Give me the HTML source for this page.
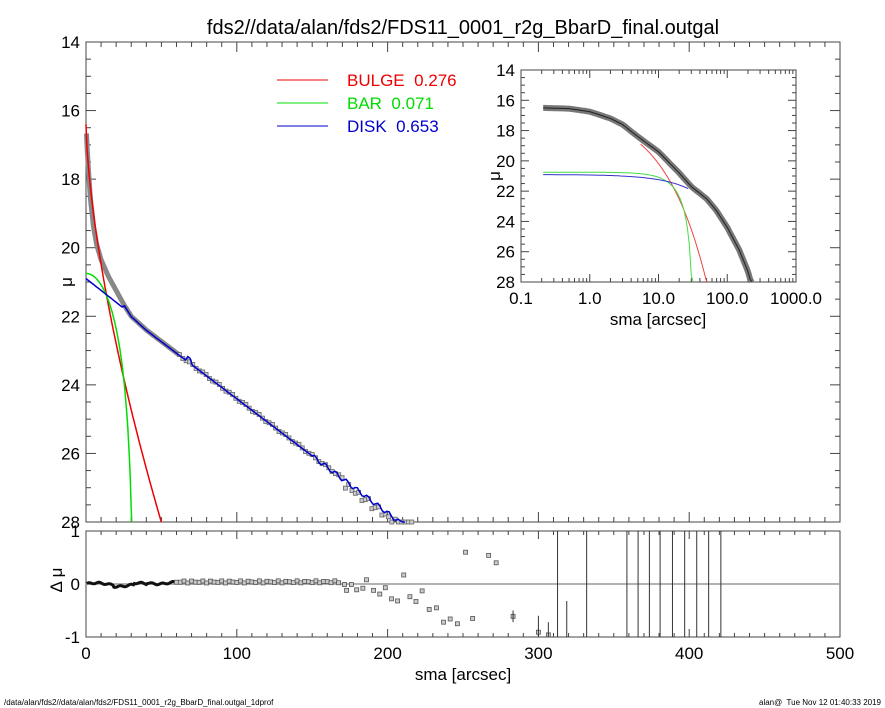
<!DOCTYPE html>
<html><head><meta charset="utf-8"><style>
body{margin:0;background:#fff;}
svg{display:block;font-family:"Liberation Sans",sans-serif;}
</style></head><body>
<svg id="s" width="885" height="708" xmlns="http://www.w3.org/2000/svg"></svg>
<script>
const S=document.getElementById('s');let h='';
const X=r=>86+r*754/500, Y=m=>42+(m-14)*480/14;
const RY=d=>584-d*53;
const IX=r=>521+(Math.log10(r)+1)*68.75, IY=m=>70+(m-14)*212/14;
const bul=r=>16.4+0.913*Math.pow(r,0.65);
const bar=r=>r>=31.9?99:20.75-2.5*Math.log10(Math.pow(1-(r/32)*(r/32),3));
const dsk=r=>20.9+0.0346*r;
function interp(pts,r){if(r<=pts[0][0])return pts[0][1];for(let i=1;i<pts.length;i++){if(r<=pts[i][0]){let a=pts[i-1],b=pts[i];let t=(r-a[0])/(b[0]-a[0]);return a[1]+t*(b[1]-a[1]);}}let a=pts[pts.length-2],b=pts[pts.length-1];return b[1]+(r-b[0])*(b[1]-a[1])/(b[0]-a[0]);}
const DP=[[0,16.4],[1,17.3],[2,18],[3,18.6],[5,19.4],[7,19.9],[10,20.35],[15,20.85],[20,21.25],[25,21.65],[30,22.0],[40,22.4]];
const dat=r=>r<=40?interp(DP,r):22.4+0.0333*(r-40);
const IP=[[0.2,16.5],[0.5,16.55],[1,16.75],[2,17.2],[3,17.6],[5,18.4],[10,19.4],[20,20.8],[30,21.7],[50,22.5],[70,23.3],[100,24.4],[150,25.9],[200,27.3],[230,28.3]];
const idat=r=>interp(IP.map(p=>[Math.log10(p[0]),p[1]]),Math.log10(r));
const ibul=r=>16.4+0.762*Math.pow(r,0.696);
function poly(f,x,y,r0,r1,n,col,w,clipY,log){let p=[];for(let i=0;i<=n;i++){let r=log?Math.pow(10,Math.log10(r0)+(Math.log10(r1)-Math.log10(r0))*i/n):r0+(r1-r0)*i/n;let m=f(r);if(m>clipY){m=clipY;p.push(x(r).toFixed(1)+','+y(m).toFixed(1));break;}p.push(x(r).toFixed(1)+','+y(m).toFixed(1));}
return `<polyline points="${p.join(' ')}" fill="none" stroke="${col}" stroke-width="${w}"/>`;}
h+=`<rect x="86" y="42" width="754" height="480" fill="none" stroke="#444"/>`;
for(let v=0;v<=500;v+=10){let x=X(v),L=v%100==0?10:5;h+=`<line x1="${x}" y1="522" x2="${x}" y2="${522-L}" stroke="#444"/><line x1="${x}" y1="42" x2="${x}" y2="${42+L}" stroke="#444"/>`;}
for(let m=14;m<=28;m+=0.5){let y=Y(m),L=m%2==0?10:5;h+=`<line x1="86" y1="${y}" x2="${86+L}" y2="${y}" stroke="#444"/><line x1="840" y1="${y}" x2="${840-L}" y2="${y}" stroke="#444"/>`;if(m%2==0)h+=`<text x="80" y="${y+6}" font-size="17" text-anchor="end">${m}</text>`;}
h+=poly(dat,X,Y,0.3,62,120,'#888',5,28);
for(let r=62;r<=218;r+=2.2){let d=dat(r)+0.03*Math.sin(r*0.7)+(r>170?0.12+0.1*Math.sin(r):0);if(d>28)d=28;h+=`<rect x="${X(r)-2}" y="${Y(d)-2}" width="4" height="4" fill="#ccc" stroke="#666" stroke-width="0.8"/>`;}
h+=poly(bul,X,Y,0,60,120,'#e00',1.5,28);
h+=poly(bar,X,Y,0,31.9,100,'#0d0',1.5,28);
let bp=[];for(let r=0;r<=212;r+=1.5){let m=r<25?dsk(r):dat(r)+0.01+(r>150?0.07*Math.sin(r*0.9):0);if(r>66&&r<70)m-=0.15;if(m>28)m=28;bp.push(X(r).toFixed(1)+','+Y(m).toFixed(1));}
h+=`<polyline points="${bp.join(' ')}" fill="none" stroke="#00c" stroke-width="1.5"/>`;
[['#e00','BULGE&#160; 0.276',80],['#0d0','BAR&#160; 0.071',103],['#00c','DISK&#160; 0.653',126]].forEach(l=>{h+=`<line x1="277" y1="${l[2]}" x2="328" y2="${l[2]}" stroke="${l[0]}"/><text x="347" y="${l[2]+6}" font-size="17" fill="${l[0]}">${l[1]}</text>`;});
h+=`<text x="463" y="34" font-size="20" text-anchor="middle">fds2//data/alan/fds2/FDS11_0001_r2g_BbarD_final.outgal</text>`;
h+=`<text x="66" y="288" font-size="17" transform="rotate(-90 66 282)" text-anchor="middle">μ</text>`;
h+=`<rect x="521" y="70" width="275" height="212" fill="#fff" stroke="#444"/>`;
for(let d=-1;d<3;d++)for(let k=1;k<10;k++){let x=IX(k*Math.pow(10,d)),L=k==1?8:4;h+=`<line x1="${x}" y1="282" x2="${x}" y2="${282-L}" stroke="#444"/><line x1="${x}" y1="70" x2="${x}" y2="${70+L}" stroke="#444"/>`;}
['0.1','1.0','10.0','100.0','1000.0'].forEach((t,i)=>h+=`<text x="${521+i*68.75}" y="304" font-size="17" text-anchor="middle">${t}</text>`);
for(let m=14;m<=28;m+=0.5){let y=IY(m),L=m%2==0?8:4;h+=`<line x1="521" y1="${y}" x2="${521+L}" y2="${y}" stroke="#444"/><line x1="796" y1="${y}" x2="${796-L}" y2="${y}" stroke="#444"/>`;if(m%2==0)h+=`<text x="515" y="${y+6}" font-size="17" text-anchor="end">${m}</text>`;}
h+=`<text x="658" y="325" font-size="17" text-anchor="middle">sma [arcsec]</text>`;
h+=`<text x="496" y="180" font-size="17" transform="rotate(-90 496 176)" text-anchor="middle">μ</text>`;
h+=poly(idat,IX,IY,0.21,225,140,'#777',6,28,1);
h+=poly(idat,IX,IY,0.21,225,140,'#222',1,28,1);
h+=poly(ibul,IX,IY,5.5,60,60,'#e44',1,28,1);
h+=poly(bar,IX,IY,0.21,31.9,80,'#4d4',1,28,1);
h+=poly(dsk,IX,IY,0.21,27,60,'#33c',1,28,1);
h+=`<rect x="86" y="531" width="754" height="106" fill="none" stroke="#444"/><line x1="86" y1="584" x2="840" y2="584" stroke="#999" stroke-width="1.5"/>`;
for(let v=0;v<=500;v+=10){let x=X(v),L=v%100==0?8:4;h+=`<line x1="${x}" y1="637" x2="${x}" y2="${637-L}" stroke="#444"/><line x1="${x}" y1="531" x2="${x}" y2="${531+L}" stroke="#444"/>`;if(v%100==0)h+=`<text x="${x}" y="659" font-size="17" text-anchor="middle">${v}</text>`;}
[[1,'1'],[0,'0'],[-1,'-1']].forEach(a=>h+=`<text x="80" y="${RY(a[0])+6}" font-size="17" text-anchor="end">${a[1]}</text>`);
h+=`<text x="463" y="680" font-size="17" text-anchor="middle">sma [arcsec]</text>`;
h+=`<text x="66" y="584" font-size="17" transform="rotate(-90 62 584)" text-anchor="middle">Δ μ</text>`;
let rp=[];for(let r=0.5;r<60;r+=0.5)rp.push(X(r).toFixed(1)+','+RY(0.015*Math.sin(r*0.9)+0.02*Math.sin(r*0.23)-0.03*(r>18&&r<32)+0.02*(r>40)).toFixed(1));
h+=`<polyline points="${rp.join(' ')}" fill="none" stroke="#111" stroke-width="3"/>`;
for(let r=60;r<170;r+=2.5){h+=`<rect x="${X(r)-2}" y="${RY(0.04+0.02*Math.sin(r))-2}" width="4" height="4" fill="#ccc" stroke="#555" stroke-width="0.8"/>`;}
[[171.4,-0.01],[172.8,-0.12],[176,-0.01],[179.5,-0.11],[183.6,-0.08],[186,0.08],[190.7,-0.12],[194.8,-0.19],[198.5,-0.07],[202.6,-0.28],[206.6,-0.32],[210.7,0.17],[214.8,-0.24],[218.8,-0.33],[222.9,-0.13],[227.6,-0.48],[232.4,-0.45],[237.1,-0.72],[241.5,-0.66],[246.3,-0.75],[251.7,0.6],[256.4,-0.65],[267,0.54],[272,0.4],[283.2,-0.61],[300,-0.91],[306.6,-0.96]].forEach(p=>h+=`<rect x="${X(p[0])-2}" y="${RY(p[1])-2}" width="4" height="4" fill="#ccc" stroke="#555" stroke-width="0.8"/>`);
h+=`<line x1="${X(283.2)}" y1="${RY(-0.5)}" x2="${X(283.2)}" y2="${RY(-0.72)}" stroke="#333"/>`;
h+=`<line x1="${X(300)}" y1="${RY(-0.6)}" x2="${X(300)}" y2="637" stroke="#333"/><line x1="${X(306.6)}" y1="${RY(-0.72)}" x2="${X(306.6)}" y2="637" stroke="#333"/>`;
h+=`<line x1="${X(318.8)}" y1="${RY(-0.32)}" x2="${X(318.8)}" y2="637" stroke="#333"/>`;
[312.7,332,358.7,366.1,373.6,380.7,388.9,397,405,412.9,421].forEach(x=>h+=`<line x1="${X(x)}" y1="531" x2="${X(x)}" y2="637" stroke="#333"/>`);
h+=`<text x="4" y="705" font-size="8">/data/alan/fds2//data/alan/fds2/FDS11_0001_r2g_BbarD_final.outgal_1dprof</text>`;
h+=`<text x="881" y="705" font-size="8" text-anchor="end">alan@&#160; Tue Nov 12 01:40:33 2019</text>`;
S.innerHTML=h;
</script>
</body></html>
